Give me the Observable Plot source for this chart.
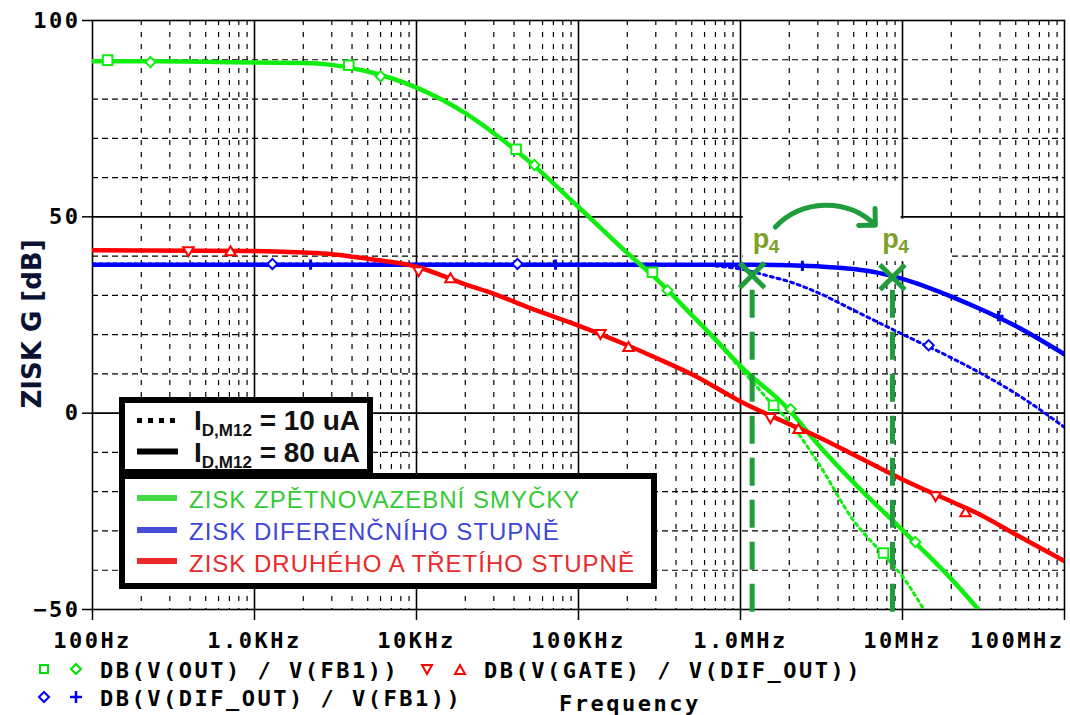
<!DOCTYPE html>
<html><head><meta charset="utf-8">
<script src="https://cdn.jsdelivr.net/npm/d3@7"></script>
<script src="https://cdn.jsdelivr.net/npm/@observablehq/plot@0.6"></script>
<style>
body{margin:0;background:#fff;}
#wrap{position:relative;width:1070px;height:715px;overflow:hidden;background:#fff;}
#chart svg{display:block;}
#chart g[aria-label$="tick label"] text{letter-spacing:2.5px;}
#ov{position:absolute;left:0;top:0;pointer-events:none;}
.mono{font-family:"DejaVu Sans Mono",monospace;font-weight:bold;font-size:22px;letter-spacing:2.5px;}
</style></head>
<body>
<div id="wrap"><div id="chart"></div>
<svg id="ov" width="1070" height="715">
  <text transform="translate(33,324) rotate(-90)" text-anchor="middle" dominant-baseline="middle" font-family="DejaVu Sans" font-weight="bold" font-size="26" fill="#0b1233">ZISK G [dB]</text>
  <!-- inset legend: line styles -->
  <rect x="122" y="400" width="248" height="72" fill="#fff" stroke="#000" stroke-width="6"/>
  <line x1="137" x2="176" y1="420.5" y2="420.5" stroke="#000" stroke-width="5" stroke-dasharray="5,6"/>
  <line x1="137" x2="178" y1="451.5" y2="451.5" stroke="#000" stroke-width="6"/>
  <text x="194" y="430" font-family="Liberation Sans" font-weight="bold" font-size="28" fill="#111">I<tspan dy="6" font-size="17">D,M12</tspan><tspan dy="-6"> = 10 uA</tspan></text>
  <text x="194" y="462" font-family="Liberation Sans" font-weight="bold" font-size="28" fill="#111">I<tspan dy="6" font-size="17">D,M12</tspan><tspan dy="-6"> = 80 uA</tspan></text>
  <!-- inset legend: colours -->
  <rect x="122" y="476" width="532" height="110" fill="#fff" stroke="#000" stroke-width="6"/>
  <line x1="137" x2="177" y1="498" y2="498" stroke="#44d844" stroke-width="6"/>
  <line x1="137" x2="177" y1="530" y2="530" stroke="#4450d8" stroke-width="6"/>
  <line x1="137" x2="177" y1="561" y2="561" stroke="#ec2a2a" stroke-width="6"/>
  <text x="189" y="508" font-family="Liberation Sans" font-size="24" letter-spacing="1" fill="#36c936">ZISK ZPĚTNOVAZEBNÍ SMYČKY</text>
  <text x="189" y="540" font-family="Liberation Sans" font-size="24" letter-spacing="1" fill="#4046d6">ZISK DIFERENČNÍHO STUPNĚ</text>
  <text x="189" y="572" font-family="Liberation Sans" font-size="24" letter-spacing="1" fill="#ea2a2a">ZISK DRUHÉHO A TŘETÍHO STUPNĚ</text>
  <!-- bottom trace legend -->
  <rect x="40" y="665" width="8" height="8" fill="none" stroke="#00e000" stroke-width="2"/>
  <path d="M76,664 L81,669 L76,674 L71,669 Z" fill="none" stroke="#00e000" stroke-width="2"/>
  <path d="M422,665 L432,665 L427,674 Z" fill="none" stroke="#ff0000" stroke-width="2"/>
  <path d="M455,674 L465,674 L460,665 Z" fill="none" stroke="#ff0000" stroke-width="2"/>
  <text class="mono" x="100" y="678">DB(V(OUT) / V(FB1))</text>
  <text class="mono" x="484" y="678">DB(V(GATE) / V(DIF_OUT))</text>
  <path d="M44,692 L49,697 L44,702 L39,697 Z" fill="none" stroke="#0000ff" stroke-width="2"/>
  <path d="M70,697 L82,697 M76,691 L76,703" fill="none" stroke="#0000ff" stroke-width="2.5"/>
  <text class="mono" x="100" y="706">DB(V(DIF_OUT) / V(FB1))</text>
  <text class="mono" x="559" y="711">Frequency</text>
</svg>
</div>
<script>
// ---- tick values and labels ----
const xTickValues = [1e2, 1e3, 1e4, 1e5, 1e6, 1e7];
const xTickLabels = ["100Hz", "1.0KHz", "10KHz", "100KHz", "1.0MHz", "10MHz"];
const xLastTick = [1e8];
const xLastLabel = ["100MHz"];
const yTickValues = [100, 50, 0, -50];
const yTickLabels = ["100", "50", "0", "\u221250"];
const yMinorGrid = [90, 80, 70, 60, 40, 30, 20, 10, -10, -20, -30, -40];
const yMajorGrid = [50, 0];
const xMajorGrid = [1e3, 1e4, 1e5, 1e6, 1e7];

// ---- DB(V(OUT)/V(FB1)) loop gain ----
const loopFreq80 = [100, 200, 500, 1e3, 2e3, 3e3, 5e3, 1e4, 2e4, 3e4, 5e4, 1e5, 2e5, 3e5, 5e5, 7e5, 1e6, 2e6, 3e6, 5e6, 1e7, 2e7, 3e7];
const loopGain80 = [89.6, 89.6, 89.5, 89.3, 89.2, 88.7, 87.0, 82.9, 76.4, 71.3, 64.0, 52.5, 40.8, 34.3, 25.0, 18.8, 12.0, 0.8, -7.9, -17.7, -29.8, -42.2, -50.4];
const loopFreq10 = [100, 200, 500, 1e3, 2e3, 3e3, 5e3, 1e4, 2e4, 3e4, 5e4, 1e5, 2e5, 3e5, 5e5, 7e5, 1e6, 1.5e6, 2e6, 3e6, 5e6, 7e6, 1e7, 1.4e7];
const loopGain10 = [89.6, 89.6, 89.5, 89.3, 89.2, 88.7, 87.0, 82.9, 76.4, 71.3, 64.0, 52.5, 40.8, 34.3, 24.9, 18.5, 11.4, 3.2, -2.2, -12.5, -27.4, -34.4, -41.6, -51.0];
// ---- DB(V(DIF_OUT)/V(FB1)) differential stage ----
const difFreq80 = [100, 1e3, 1e4, 1e5, 1e6, 2e6, 3e6, 5e6, 7e6, 1e7, 2e7, 3e7, 5e7, 1e8];
const difGain80 = [37.8, 37.8, 37.8, 37.8, 37.8, 37.7, 37.4, 36.7, 35.8, 34.2, 29.7, 26.6, 22.2, 15.0];
const difFreq10 = [100, 1e3, 1e4, 1e5, 3e5, 5e5, 7e5, 1e6, 1.5e6, 2e6, 3e6, 5e6, 1e7, 2e7, 3e7, 5e7, 1e8];
const difGain10 = [38.0, 38.0, 38.0, 38.0, 37.9, 37.8, 37.5, 36.7, 34.9, 33.5, 30.7, 26.2, 20.1, 14.1, 10.3, 5.0, -3.6];
// ---- DB(V(GATE)/V(DIF_OUT)) second + third stage ----
const stageFreq = [100, 1e3, 2e3, 3e3, 5e3, 1e4, 2e4, 3e4, 5e4, 1e5, 2e5, 3e5, 5e5, 1e6, 2e6, 3e6, 5e6, 1e7, 2e7, 3e7, 5e7, 1e8];
const stageGain = [41.5, 41.3, 40.9, 40.5, 39.3, 37.3, 32.8, 30.4, 26.8, 22.3, 17.3, 14.1, 9.9, 3.0, -2.8, -6.0, -10.6, -16.9, -22.5, -25.8, -30.9, -37.7];

// ---- trace markers ----
const loopSqFreq = [124, 3820, 41200, 286000, 1.6e6, 7.63e6];
const loopSqGain = [89.9, 88.6, 67.2, 35.9, 2.0, -35.6];
const loopDiaFreq = [228, 6000, 53500, 354000, 2.04e6, 1.2e7];
const loopDiaGain = [89.4, 85.8, 63.2, 31.3, 1.0, -32.8];
const difDiaFreq = [1290, 42000, 1.45e7];
const difDiaGain = [38.0, 38.0, 17.3];
const difPlusFreq = [2220, 72100, 2.41e6, 3.91e7];
const difPlusGain = [37.8, 37.8, 37.5, 24.7];
const stageDownFreq = [391, 10300, 136700, 1.53e6, 1.6e7];
const stageDownGain = [41.5, 36.4, 20.4, -1.0, -20.9];
const stageUpFreq = [711, 16200, 203600, 2.28e6, 2.45e7];
const stageUpGain = [41.0, 34.1, 16.6, -4.3, -25.5];

// ---- p4 annotation ----
const p4Freq = [1.18e6, 8.67e6];
const p4Gain = [35.1, 34.6];
const p4LineTop = 31.3, p4LineBottom = -53.2;
const p4LabelFreq = [1.19e6, 7.5e6];
const p4LabelGain = [42.0, 42.0];
const arrowFreq = [1.64e6, 6.8e6];
const arrowGain = [47.4, 47.9];
const maskX1 = [1.04e6, 9.8e6], maskX2 = [9.8e6, 1.92e7];
const maskY1 = [38.6, 38.6], maskY2 = [59.1, 49.4];

const rows = (f, g) => f.map((d, i) => ({f: d, g: g[i]}));
const xMinorGrid = [];
for (const d of xTickValues) for (let m = 2; m <= 9; m++) xMinorGrid.push(d * m);
const xLab = new Map(xTickValues.map((d, i) => [d, xTickLabels[i]]));
const yLab = new Map(yTickValues.map((d, i) => [d, yTickLabels[i]]));

const GREEN = "#10ee10", BLUE = "#0000ff", RED = "#ff0000", ANN = "#1f9d3d", P4C = "#7ea02a";
const font = {fontFamily: "DejaVu Sans Mono", fontWeight: "bold", fontSize: 22};

const chart = Plot.plot({
  width: 1070, height: 650,
  marginLeft: 92, marginRight: 6, marginTop: 20, marginBottom: 41,
  style: {background: "white", color: "#000", overflow: "visible"},
  x: {type: "log", domain: [100, 1e8]},
  y: {domain: [-50, 100]},
  marks: [
    Plot.ruleY(yMinorGrid, {stroke: "#000", strokeWidth: 1.2, strokeDasharray: "6,4"}),
    Plot.ruleX(xMinorGrid, {stroke: "#000", strokeWidth: 1.2, strokeDasharray: "5,7"}),
    Plot.ruleY(yMajorGrid, {stroke: "#000", strokeWidth: 1.6}),
    Plot.ruleX(xMajorGrid, {stroke: "#000", strokeWidth: 1.6}),
    Plot.rect(maskX1.map((d, i) => ({x1: d, x2: maskX2[i], y1: maskY1[i], y2: maskY2[i]})), {x1: "x1", x2: "x2", y1: "y1", y2: "y2", fill: "white"}),
    Plot.frame({stroke: "#000", strokeWidth: 1.6}),
    Plot.axisX(xTickValues, {tickSize: 11, tickPadding: 12, strokeWidth: 1.5, tickFormat: d => xLab.get(d), label: null, ...font}),
    Plot.axisX(xLastTick, {tickSize: 11, tickPadding: 12, strokeWidth: 1.5, tickFormat: () => xLastLabel[0], textAnchor: "end", label: null, ...font}),
    Plot.axisY(yTickValues, {tickSize: 10, tickPadding: 2, strokeWidth: 1.5, tickFormat: d => yLab.get(d), label: null, ...font}),
    // traces
    Plot.line(rows(difFreq10, difGain10), {x: "f", y: "g", stroke: BLUE, strokeWidth: 3, strokeDasharray: "3,4", curve: "monotone-x", clip: true}),
    Plot.line(rows(difFreq80, difGain80), {x: "f", y: "g", stroke: BLUE, strokeWidth: 4.5, curve: "monotone-x", clip: true}),
    Plot.line(rows(loopFreq10, loopGain10), {x: "f", y: "g", stroke: GREEN, strokeWidth: 3, strokeDasharray: "3,4", curve: "monotone-x", clip: true}),
    Plot.line(rows(loopFreq80, loopGain80), {x: "f", y: "g", stroke: GREEN, strokeWidth: 4.5, curve: "monotone-x", clip: true}),
    Plot.line(rows(stageFreq, stageGain), {x: "f", y: "g", stroke: RED, strokeWidth: 4.5, curve: "monotone-x", clip: true}),
    // markers
    Plot.dot(rows(loopSqFreq, loopSqGain), {x: "f", y: "g", symbol: "square", r: 5.4, stroke: GREEN, strokeWidth: 2, fill: "white"}),
    Plot.dot(rows(loopDiaFreq, loopDiaGain), {x: "f", y: "g", symbol: "diamond2", r: 4.6, stroke: GREEN, strokeWidth: 2, fill: "white"}),
    Plot.dot(rows(difDiaFreq, difDiaGain), {x: "f", y: "g", symbol: "diamond2", r: 4.6, stroke: BLUE, strokeWidth: 2, fill: "white"}),
    Plot.dot(rows(difPlusFreq, difPlusGain), {x: "f", y: "g", symbol: "plus", r: 3.4, stroke: BLUE, strokeWidth: 3}),
    Plot.dot(rows(stageDownFreq, stageDownGain), {x: "f", y: "g", symbol: "triangle2", rotate: 180, r: 5, stroke: RED, strokeWidth: 2, fill: "white"}),
    Plot.dot(rows(stageUpFreq, stageUpGain), {x: "f", y: "g", symbol: "triangle2", r: 5, stroke: RED, strokeWidth: 2, fill: "white"}),
    // p4 annotation
    Plot.ruleX(p4Freq, {y1: p4LineTop, y2: p4LineBottom, stroke: ANN, strokeWidth: 5, strokeDasharray: "28,14"}),
    Plot.dot(rows(p4Freq, p4Gain), {x: "f", y: "g", symbol: "times", r: 11.4, stroke: ANN, strokeWidth: 5}),
    Plot.arrow([{x1: arrowFreq[0], y1: arrowGain[0], x2: arrowFreq[1], y2: arrowGain[1]}], {x1: "x1", y1: "y1", x2: "x2", y2: "y2", bend: 45, headAngle: 90, headLength: 5, stroke: ANN, strokeWidth: 5}),
    Plot.text(rows(p4LabelFreq, p4LabelGain), {x: "f", y: "g", text: () => "p", textAnchor: "start", lineAnchor: "bottom", fill: P4C, fontFamily: "Liberation Sans", fontWeight: "bold", fontSize: 27}),
    Plot.text(rows(p4LabelFreq, p4LabelGain), {x: "f", y: "g", text: () => "4", textAnchor: "start", lineAnchor: "bottom", dx: 16, dy: 5, fill: P4C, fontFamily: "Liberation Sans", fontWeight: "bold", fontSize: 19})
  ]
});
document.getElementById("chart").appendChild(chart);
</script>
</body></html>
